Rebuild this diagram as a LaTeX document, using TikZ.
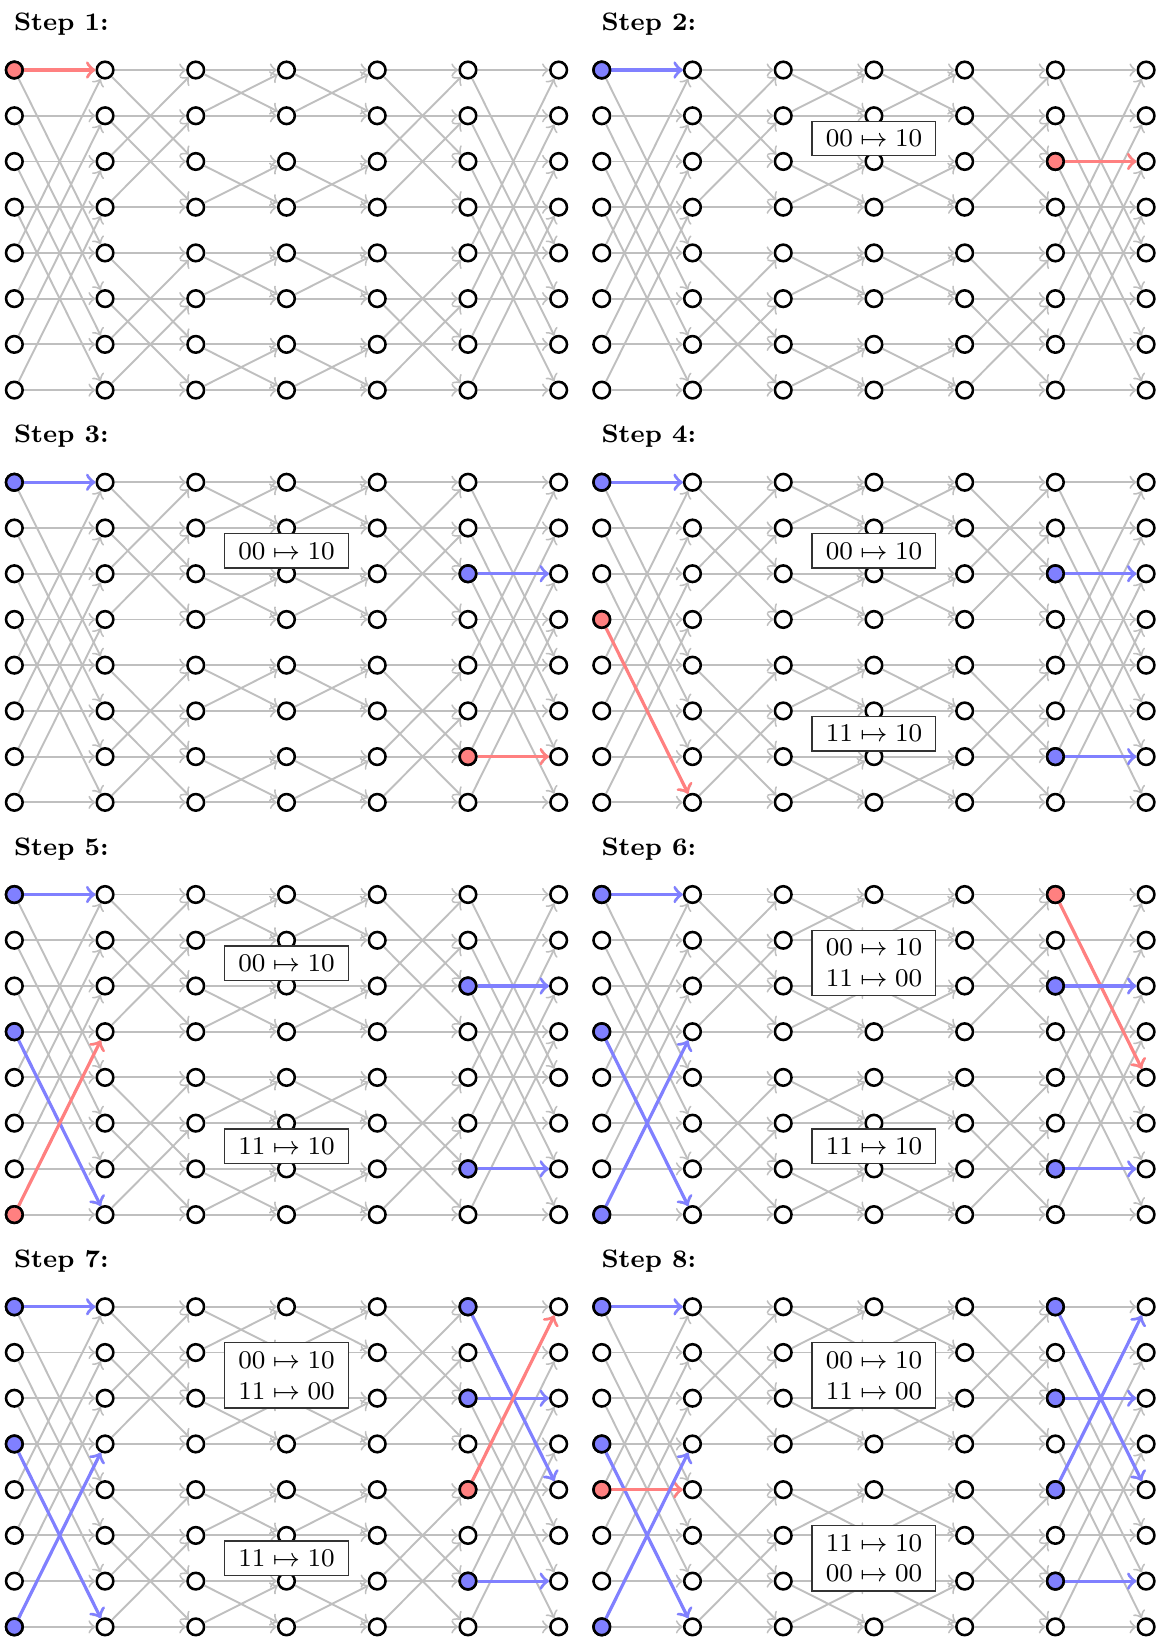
\documentclass[tikz,border=0pt]{standalone}
\usetikzlibrary{calc}

\begin{document}
\begin{tikzpicture}[
  font=\fontsize{8.15}{9.7}\selectfont,
  nd/.style={draw, circle, fill=white, minimum size=0.183cm, inner sep=0pt, line width=0.8pt},
  ed/.style={->, gray!50, line width=0.6pt},
  hl/.style={->, line width=1pt},
  rule/.style={draw=black!80, fill=white, line width=0.4pt, align=center, inner xsep=4.3pt, inner ysep=2.8pt},
  steplbl/.style={anchor=base west, inner sep=0pt, font=\fontsize{7.9}{9.7}\selectfont\bfseries},
  >=to
]
  \useasboundingbox (-0.158,0.772) rectangle (12.629,-17.272);

  \foreach \p in {1,...,8} {
    \pgfmathsetmacro\px{mod(\p-1,2)*6.475}
    \pgfmathsetmacro\py{-floor((\p-1)/2)*4.544}
    \node[steplbl] (s\p) at (\px-0.01,\py+0.433) {Step \p:};
    \foreach \c in {0,...,6}
      \foreach \r in {0,...,7}
        \node[nd] (p\p-\c-\r) at (\px+\c,\py-\r*0.504) {};
    \foreach \c/\k in {0/4,1/2,2/1,3/1,4/2,5/4} {
      \pgfmathtruncatemacro\nx{\c+1}
      \foreach \r in {0,...,7} {
        \pgfmathtruncatemacro\q{mod(\r,2*\k)<\k ? \r+\k : \r-\k}
        \draw[ed] (p\p-\c-\r) -- (p\p-\nx-\r);
        \draw[ed] (p\p-\c-\r) -- (p\p-\nx-\q);
      }
    }
  }

  \foreach \p/\c/\r/\hc/\t in {1/0/0/red/0,
      2/0/0/blue/0, 2/5/2/red/2,
      3/0/0/blue/0, 3/5/2/blue/2, 3/5/6/red/6,
      4/0/0/blue/0, 4/0/3/red/7, 4/5/2/blue/2, 4/5/6/blue/6,
      5/0/0/blue/0, 5/0/3/blue/7, 5/0/7/red/3, 5/5/2/blue/2, 5/5/6/blue/6,
      6/0/0/blue/0, 6/0/3/blue/7, 6/0/7/blue/3, 6/5/0/red/4, 6/5/2/blue/2, 6/5/6/blue/6,
      7/0/0/blue/0, 7/0/3/blue/7, 7/0/7/blue/3, 7/5/0/blue/4, 7/5/2/blue/2, 7/5/4/red/0, 7/5/6/blue/6,
      8/0/0/blue/0, 8/0/3/blue/7, 8/0/4/red/4, 8/0/7/blue/3, 8/5/0/blue/4, 8/5/2/blue/2, 8/5/4/blue/0, 8/5/6/blue/6} {
    \pgfmathtruncatemacro\nx{\c+1}
    \draw[hl, \hc!50] (p\p-\c-\r) -- (p\p-\nx-\t);
    \node[nd, fill=\hc!50] (p\p-\c-\r) at (p\p-\c-\r.center) {};
  }

  \foreach \p/\r/\txt in {2/1/{$00\mapsto10$}, 3/1/{$00\mapsto10$},
      4/1/{$00\mapsto10$}, 4/5/{$11\mapsto10$},
      5/1/{$00\mapsto10$}, 5/5/{$11\mapsto10$},
      6/1/{$00\mapsto10$\\$11\mapsto00$}, 6/5/{$11\mapsto10$},
      7/1/{$00\mapsto10$\\$11\mapsto00$}, 7/5/{$11\mapsto10$},
      8/1/{$00\mapsto10$\\$11\mapsto00$}, 8/5/{$11\mapsto10$\\$00\mapsto00$}} {
    \pgfmathtruncatemacro\nr{\r+1}
    \node[rule] (m\p-\r) at ($(p\p-3-\r)!0.5!(p\p-3-\nr)$) {\txt};
  }
\end{tikzpicture}
\end{document}
